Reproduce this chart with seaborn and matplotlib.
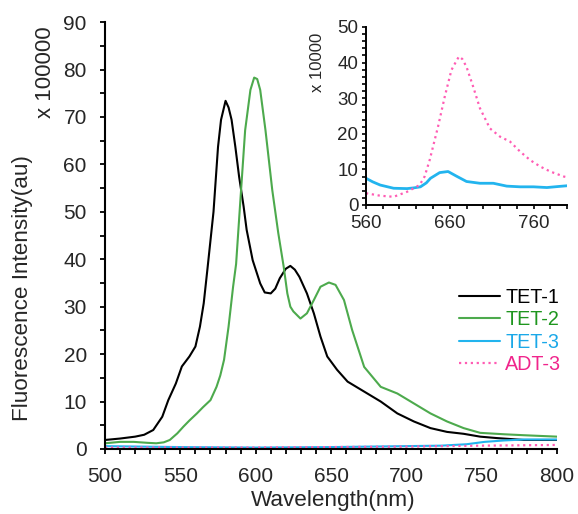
import numpy as np
import pandas as pd
import matplotlib
matplotlib.use("Agg")
import matplotlib.pyplot as plt
from matplotlib.ticker import MultipleLocator
import seaborn as sns

# ---------------- data (main, values x 100000) ----------------
tet1_x = [500, 510, 520, 526, 532, 538, 542, 547, 551, 556, 560, 563, 565.5, 568, 572, 575, 577, 580, 582,
          584, 586.5, 589, 592, 594, 598, 603, 606, 610, 613, 616, 620, 623, 626, 629, 634, 638.6, 643, 647.5,
          654, 661, 672, 683, 694, 705, 716, 727, 738, 749, 760, 778, 800]
tet1_y = [1.9, 2.2, 2.6, 3.0, 4.0, 6.8, 10.3, 13.8, 17.4, 19.5, 21.6, 25.8, 30.7, 38.0, 50.0, 63.7, 69.4, 73.4, 72.0,
          69.4, 63.7, 57.4, 51.1, 46.2, 39.8, 34.9, 33.0, 32.8, 33.8, 36.0, 38.0, 38.6, 37.8, 36.3, 32.8, 28.6, 23.7, 19.5,
          16.7, 14.2, 12.1, 10.0, 7.5, 5.8, 4.4, 3.6, 3.2, 2.6, 2.3, 1.9, 1.9]

tet2_x = [500, 510, 519, 528, 534, 539, 543, 548, 552, 556, 561, 565, 570, 574, 576.5, 579, 582, 585, 587, 590,
          593, 596.5, 599, 601, 603, 606.5, 611, 615, 618.6, 621, 623, 625, 629.7, 634, 638.6, 643, 648.6, 653,
          658.6, 664, 672, 683, 694, 705, 716, 727, 738, 749, 765, 778, 800]
tet2_y = [1.2, 1.5, 1.5, 1.3, 1.2, 1.4, 1.9, 3.3, 4.7, 6.0, 7.5, 8.8, 10.3, 13.1, 15.5, 18.8, 25.8, 34.2, 39.0, 53.2,
          67.2, 75.7, 78.3, 78.0, 75.7, 67.2, 54.6, 45.5, 38.4, 32.8, 30.0, 29.0, 27.5, 28.6, 31.4, 34.2, 35.1, 34.6,
          31.4, 25.1, 17.3, 13.1, 11.7, 9.6, 7.5, 5.8, 4.4, 3.4, 3.1, 2.9, 2.6]

tet3_x = [500, 550, 600, 650, 700, 723, 740, 752, 765, 778, 800]
tet3_y = [0.6, 0.4, 0.3, 0.4, 0.6, 0.7, 1.0, 1.5, 1.8, 2.0, 2.0]

adt3_x = [500, 550, 600, 650, 700, 750, 800]
adt3_y = [0.3, 0.3, 0.3, 0.4, 0.5, 0.7, 0.85]

# ---------------- data (inset, values x 10000) ----------------
in_tet3_x = [560, 568, 577, 593, 609, 617, 625, 632, 637, 648, 658, 668, 680, 696, 712, 728, 744, 760, 776, 790, 800]
in_tet3_y = [7.5, 6.5, 5.6, 4.7, 4.6, 4.8, 5.1, 6.2, 7.5, 9.1, 9.4, 8.1, 6.6, 6.1, 6.1, 5.3, 5.1, 5.1, 4.9, 5.2, 5.4]

in_adt3_x = [560, 577, 593, 609, 624, 630, 636, 646, 654, 662, 668, 671, 675, 680, 688, 696, 708, 720, 732, 744,
             756, 768, 780, 796, 800]
in_adt3_y = [3.3, 2.6, 2.3, 3.7, 5.6, 8.0, 12.6, 22.0, 30.4, 37.9, 40.5, 41.7, 41.0, 38.8, 33.2, 27.2, 21.5, 19.2,
             17.8, 15.0, 12.6, 10.8, 9.4, 8.0, 7.8]

labels = ["TET-1", "TET-2", "TET-3", "ADT-3"]
line_colors = ["#000000", "#4DAA4D", "#22B4EE", "#FF5CB4"]
text_colors = ["#000000", "#1E961E", "#1AA8E8", "#F0258C"]

sns.set_style("ticks")
plt.rcParams["font.family"] = ["Liberation Sans", "DejaVu Sans"]

fig = plt.figure(figsize=(5.78, 5.14), dpi=100)
ax = fig.add_axes([0.1817, 0.1265, 0.7820, 0.8305])

series = [(tet1_x, tet1_y), (tet2_x, tet2_y), (tet3_x, tet3_y), (adt3_x, adt3_y)]
styles = ["-", "-", "-", ":"]
widths = [1.5, 1.5, 1.5, 1.6]
for (xs, ys), lab, c, ls, lw in zip(series, labels, line_colors, styles, widths):
    df = pd.DataFrame({"x": xs, "y": ys})
    sns.lineplot(data=df, x="x", y="y", ax=ax, color=c, linestyle=ls, lw=lw,
                 label=lab, estimator=None, sort=False)

ax.set_xlim(500, 800)
ax.set_ylim(0, 90)
ax.xaxis.set_major_locator(MultipleLocator(50))
ax.xaxis.set_minor_locator(MultipleLocator(10))
ax.yaxis.set_major_locator(MultipleLocator(10))
ax.yaxis.set_minor_locator(MultipleLocator(5))
ax.tick_params(which="both", direction="out", length=3.6, width=1.3, color="black")
ax.tick_params(which="major", labelsize=15, pad=9.5)
for s in ["top", "right"]:
    ax.spines[s].set_visible(False)
for s in ["left", "bottom"]:
    ax.spines[s].set_linewidth(1.5)
    ax.spines[s].set_color("black")
ax.set_xlabel("Wavelength(nm)", fontsize=16.2)
ax.set_ylabel("Fluorescence Intensity(au)", fontsize=16.2)
ax.xaxis.set_label_coords(0.505, -0.097)
ax.yaxis.set_label_coords(-0.16, 0.377)
fig.text(0.078, 0.86, "x 100000", rotation=90, fontsize=16, ha="center", va="center")

leg = ax.legend(loc="upper left", bbox_to_anchor=(0.783, 0.377), frameon=False, fontsize=14.2,
                handlelength=2.1, handletextpad=0.25, labelspacing=0.17, borderaxespad=0, borderpad=0)
for t, c in zip(leg.get_texts(), text_colors):
    t.set_color(c)

# ---------------- inset ----------------
ax2 = fig.add_axes([0.6332, 0.6012, 0.3478, 0.3463])
for (xs, ys), c, ls, lw in [((in_tet3_x, in_tet3_y), line_colors[2], "-", 2.0),
                            ((in_adt3_x, in_adt3_y), line_colors[3], ":", 1.6)]:
    df = pd.DataFrame({"x": xs, "y": ys})
    sns.lineplot(data=df, x="x", y="y", ax=ax2, color=c, linestyle=ls, lw=lw,
                 estimator=None, sort=False, legend=False)
ax2.set_xlim(560, 800)
ax2.set_ylim(0, 50)
ax2.set_xticks([560, 660, 760])
ax2.xaxis.set_minor_locator(MultipleLocator(20))
ax2.yaxis.set_major_locator(MultipleLocator(10))
ax2.yaxis.set_minor_locator(MultipleLocator(2))
ax2.tick_params(which="both", direction="out", length=3, width=1.2, color="black")
ax2.tick_params(axis="x", which="major", labelsize=13.5, pad=4.5)
ax2.tick_params(axis="y", which="major", labelsize=13.5, pad=2.5)
for s in ["top", "right"]:
    ax2.spines[s].set_visible(False)
for s in ["left", "bottom"]:
    ax2.spines[s].set_linewidth(1.4)
    ax2.spines[s].set_color("black")
ax2.set_xlabel("")
ax2.set_ylabel("x 10000", fontsize=12)
ax2.yaxis.set_label_coords(-0.204, 0.80)

fig.savefig("out.png", dpi=100)
